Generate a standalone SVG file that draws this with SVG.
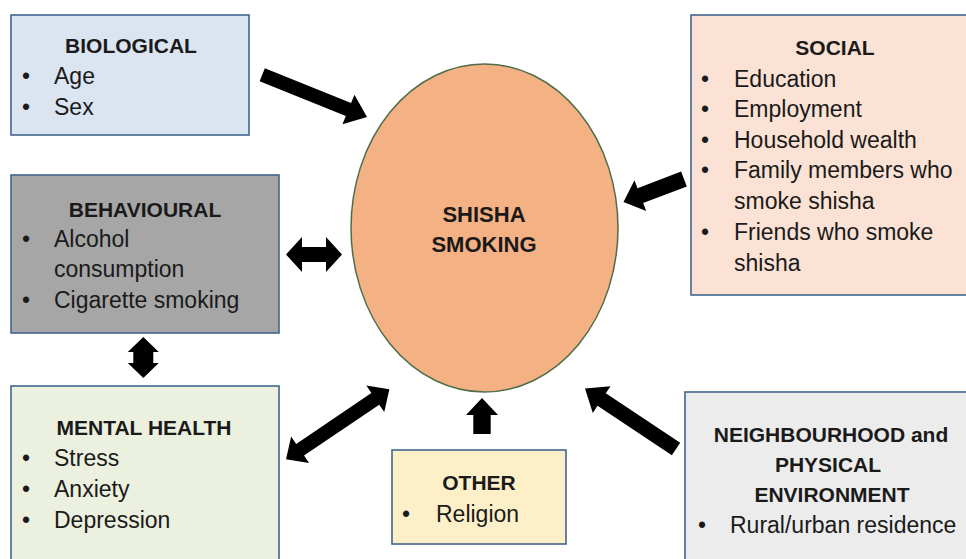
<svg xmlns="http://www.w3.org/2000/svg" width="966" height="559" viewBox="0 0 966 559">
<style>
.box{stroke:#41668f;stroke-width:1.6}
.t{font-family:"Liberation Sans",Arial,sans-serif;font-size:23px;fill:#1a1a1a}
.h{font-weight:bold;text-anchor:middle;font-size:21px}
.arrow{fill:#000}
</style>
<rect width="966" height="559" fill="#ffffff"/>
<g id="connectors">
<polygon class="arrow" transform="translate(367,117) rotate(22)" points="-113,-7 -20,-7 -20,-16 0,0 -20,16 -20,7 -113,7"/>
<polygon class="arrow" transform="translate(314,254.5)" points="-28,0 -12,-17.5 -12,-7.5 12,-7.5 12,-17.5 28,0 12,17.5 12,7.5 -12,7.5 -12,17.5"/>
<polygon class="arrow" transform="translate(143.3,357.5) rotate(90)" points="-20.5,0 -5.5,-15.5 -5.5,-10 5.5,-10 5.5,-15.5 20.5,0 5.5,15.5 5.5,10 -5.5,10 -5.5,15.5"/>
<polygon class="arrow" transform="translate(337.7,424.3) rotate(-34.1)" points="-62.4,0 -45.4,-16 -45.4,-7 45.4,-7 45.4,-16 62.4,0 45.4,16 45.4,7 -45.4,7 -45.4,16"/>
<polygon class="arrow" transform="translate(482,398) rotate(-90)" points="-36,-8.7 -17,-8.7 -17,-16 0,0 -17,16 -17,8.7 -36,8.7"/>
<polygon class="arrow" transform="translate(623.5,202) rotate(159.2)" points="-64.7,-8 -18,-8 -18,-16.5 0,0 -18,16.5 -18,8 -64.7,8"/>
<polygon class="arrow" transform="translate(585,388.5) rotate(213.6)" points="-109.3,-7.5 -20,-7.5 -20,-16 0,0 -20,16 -20,7.5 -109.3,7.5"/>
</g>
<g id="shisha">
<ellipse cx="484.5" cy="228" rx="133.5" ry="164" fill="#f4b183" stroke="#4e6e4a" stroke-width="1.5"/>
<text class="t h" x="484" y="222" style="font-size:22px">SHISHA</text>
<text class="t h" x="484" y="252" style="font-size:22px">SMOKING</text>
</g>
<g id="biological">
<rect class="box" x="11" y="15" width="238" height="120" fill="#dbe5f1"/>
<text class="t h" x="131" y="53">BIOLOGICAL</text>
<text class="t" x="22" y="84">•</text><text class="t" x="54" y="84">Age</text>
<text class="t" x="22" y="115">•</text><text class="t" x="54" y="115">Sex</text>
</g>
<g id="behavioural">
<rect class="box" x="11" y="175" width="268" height="158" fill="#a6a6a6"/>
<text class="t h" x="145" y="217">BEHAVIOURAL</text>
<text class="t" x="22" y="247">•</text><text class="t" x="54" y="247">Alcohol</text>
<text class="t" x="54" y="277">consumption</text>
<text class="t" x="22" y="308">•</text><text class="t" x="54" y="308">Cigarette smoking</text>
</g>
<g id="mental">
<rect class="box" x="11" y="386" width="268" height="180" fill="#ebf1de"/>
<text class="t h" x="144" y="435">MENTAL HEALTH</text>
<text class="t" x="22" y="466">•</text><text class="t" x="54" y="466">Stress</text>
<text class="t" x="22" y="497">•</text><text class="t" x="54" y="497">Anxiety</text>
<text class="t" x="22" y="528">•</text><text class="t" x="54" y="528">Depression</text>
</g>
<g id="social">
<rect class="box" x="691" y="15" width="290" height="280" fill="#fbe2d4"/>
<text class="t h" x="835" y="55">SOCIAL</text>
<text class="t" x="701" y="87">•</text><text class="t" x="734" y="87">Education</text>
<text class="t" x="701" y="117">•</text><text class="t" x="734" y="117">Employment</text>
<text class="t" x="701" y="148">•</text><text class="t" x="734" y="148">Household wealth</text>
<text class="t" x="701" y="178">•</text><text class="t" x="734" y="178">Family members who</text>
<text class="t" x="734" y="209">smoke shisha</text>
<text class="t" x="701" y="240">•</text><text class="t" x="734" y="240">Friends who smoke</text>
<text class="t" x="734" y="271">shisha</text>
</g>
<g id="other">
<rect class="box" x="392" y="450" width="174" height="94" fill="#fdf0c8"/>
<text class="t h" x="479" y="490">OTHER</text>
<text class="t" x="402" y="522">•</text><text class="t" x="436" y="522">Religion</text>
</g>
<g id="neighbourhood">
<rect class="box" x="685" y="392" width="292" height="180" fill="#ececec"/>
<text class="t h" x="831" y="442">NEIGHBOURHOOD and</text>
<text class="t h" x="828" y="472">PHYSICAL</text>
<text class="t h" x="832" y="502">ENVIRONMENT</text>
<text class="t" x="698" y="533">•</text><text class="t" x="730" y="533">Rural/urban residence</text>
</g>
</svg>
